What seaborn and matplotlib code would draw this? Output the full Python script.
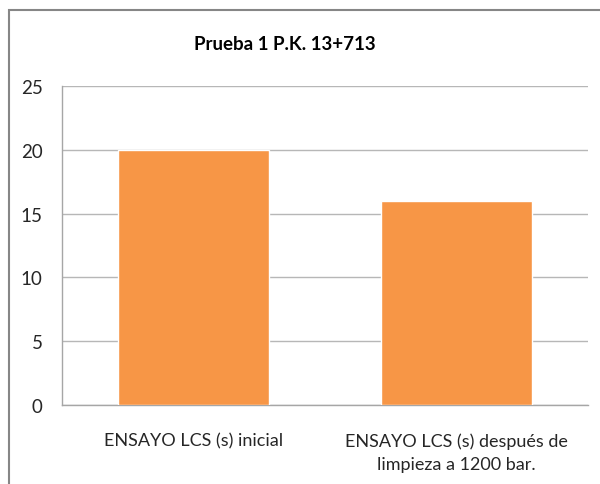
import matplotlib
matplotlib.use("Agg")
import matplotlib.pyplot as plt
import seaborn as sns
import pandas as pd
from matplotlib.patches import Rectangle

categories = ["ENSAYO LCS (s) inicial", "ENSAYO LCS (s) después de\nlimpieza a 1200 bar."]
values = [20, 16]
yticks = [0, 5, 10, 15, 20, 25]
title = "Prueba 1 P.K. 13+713"

sns.set_theme(style="white")
plt.rcParams['font.family'] = ['Lato', 'DejaVu Sans']

df = pd.DataFrame({"cat": categories, "val": values})

fig = plt.figure(figsize=(6, 4.85), dpi=100)
W, H = 600, 485
ax = fig.add_axes([62 / W, 1 - 406 / H, (588 - 62) / W, (406 - 87) / H])

sns.barplot(data=df, x="cat", y="val", color="#F79646", saturation=1, width=0.574, ax=ax, zorder=3)

ax.set_ylim(0, 25)
ax.set_yticks(yticks)
ax.set_yticklabels([str(t) for t in yticks], fontsize=13.5, color="#262626")
ax.set_xlabel("")
ax.set_ylabel("")
ax.tick_params(axis="x", labelsize=13, colors="#262626", length=0, pad=20)
ax.tick_params(axis="y", length=0, pad=14)
ax.yaxis.grid(True, color="#B7B7B7", linewidth=1, zorder=0)
ax.set_axisbelow(True)
for s in ["top", "right"]:
    ax.spines[s].set_visible(False)
for s in ["left", "bottom"]:
    ax.spines[s].set_color("#A6A6A6")
    ax.spines[s].set_linewidth(1)
for lbl in ax.get_xticklabels():
    lbl.set_multialignment("center")
    lbl.set_linespacing(1.5)

fig.text(284.5 / W, 1 - 44 / H, title, ha="center", va="center", fontsize=13.5, fontweight="bold", color="#000000")

fig.patches.append(Rectangle((8.5 / W, -0.1), 1.2, 1 - 11 / H + 0.1, transform=fig.transFigure,
                             fill=False, edgecolor="#868686", linewidth=1.5, zorder=10))

fig.savefig("out.png", dpi=100)
